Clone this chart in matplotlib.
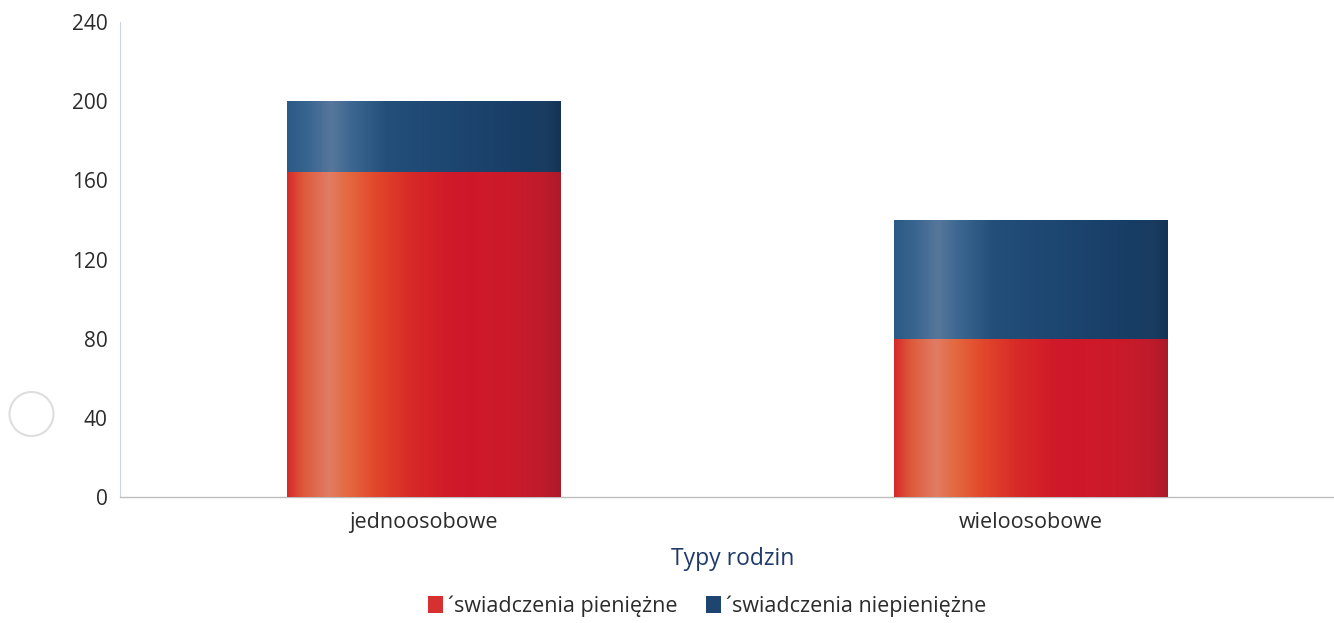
import numpy as np
import matplotlib
matplotlib.use("Agg")
import matplotlib.pyplot as plt
from matplotlib.colors import LinearSegmentedColormap
from matplotlib.patches import Patch, Circle
from matplotlib.transforms import Affine2D

categories = ["jednoosobowe", "wieloosobowe"]
pieniezne = [164, 80]
niepieniezne = [36, 60]
series_labels = ["´swiadczenia pieniężne", "´swiadczenia niepieniężne"]
yticks = [0, 40, 80, 120, 160, 200, 240]

plt.rcParams['font.family'] = ['Open Sans', 'DejaVu Sans']

fig = plt.figure(figsize=(13.34, 6.23), dpi=100)
ax = fig.add_axes([120/1334, 1-497/623, 1-120/1334, (497-22)/623])

red_base = "#d42028"
blue_base = "#1c4674"
red_cmap = LinearSegmentedColormap.from_list("r", [
    (0.0, "#d62a2a"), (0.06, "#de5a3c"), (0.15, "#e07c64"), (0.22, "#e46a40"),
    (0.32, "#e2482c"), (0.45, "#d82a28"), (0.6, "#d0182a"), (0.8, "#cc1a2a"),
    (0.93, "#c01c2c"), (1.0, "#ac1a2a")])
blue_cmap = LinearSegmentedColormap.from_list("b", [
    (0.0, "#2a5a86"), (0.08, "#3a6690"), (0.16, "#58779c"), (0.24, "#3a6690"),
    (0.36, "#234f7a"), (0.6, "#1d4670"), (0.85, "#183e66"), (0.95, "#1a3c60"),
    (1.0, "#133456")])

x = np.arange(len(categories))
w = 0.45
b1 = ax.bar(x, pieniezne, w, color=red_base, label=series_labels[0], zorder=2)
b2 = ax.bar(x, niepieniezne, w, bottom=pieniezne, color=blue_base,
            label=series_labels[1], zorder=2)

grad = np.linspace(0, 1, 256).reshape(1, -1)
for bars, cmap in ((b1, red_cmap), (b2, blue_cmap)):
    for p in bars:
        x0, y0 = p.get_x(), p.get_y()
        pw, ph = p.get_width(), p.get_height()
        im = ax.imshow(grad, cmap=cmap, aspect='auto',
                       extent=[x0, x0 + pw, y0, y0 + ph], zorder=3,
                       interpolation='bicubic')
        im.set_clip_path(p)

ax.set_xlim(-0.5, 1.5)
ax.set_ylim(0, 240)
ax.set_yticks(yticks)
ax.set_xticks(x)
ax.set_xticklabels(categories)
ax.tick_params(axis='both', length=0, colors="#2b2b2b")
ax.tick_params(axis='y', pad=9, labelsize=15)
ax.tick_params(axis='x', pad=11, labelsize=15.5)

for s in ("top", "right"):
    ax.spines[s].set_visible(False)
ax.spines["left"].set_color("#ccd3e2")
ax.spines["left"].set_linewidth(0.8)
ax.spines["bottom"].set_color("#bdbdbd")
ax.spines["bottom"].set_linewidth(1.0)

ax.set_xlabel("Typy rodzin", fontsize=16.5, color="#1f3a6a", labelpad=12)
ax.xaxis.set_label_coords(0.505, -0.105)

handles = [Patch(facecolor="#d63030", edgecolor="none"),
           Patch(facecolor="#1e4470", edgecolor="none")]
fig.legend(handles, series_labels, loc="center", bbox_to_anchor=(0.53, 1-606/623),
           ncol=2, frameon=False, fontsize=15.5, handlelength=0.7, handleheight=0.8,
           handletextpad=0.25, columnspacing=1.3, labelcolor="#2b2b2b")

fig.patches.append(Circle((31.5, 623 - 414), 22, transform=Affine2D() + fig.dpi_scale_trans.frozen().scale(0.01),
                          fill=False, edgecolor="#dedede", linewidth=1.5))

fig.savefig("out.png", dpi=100)
